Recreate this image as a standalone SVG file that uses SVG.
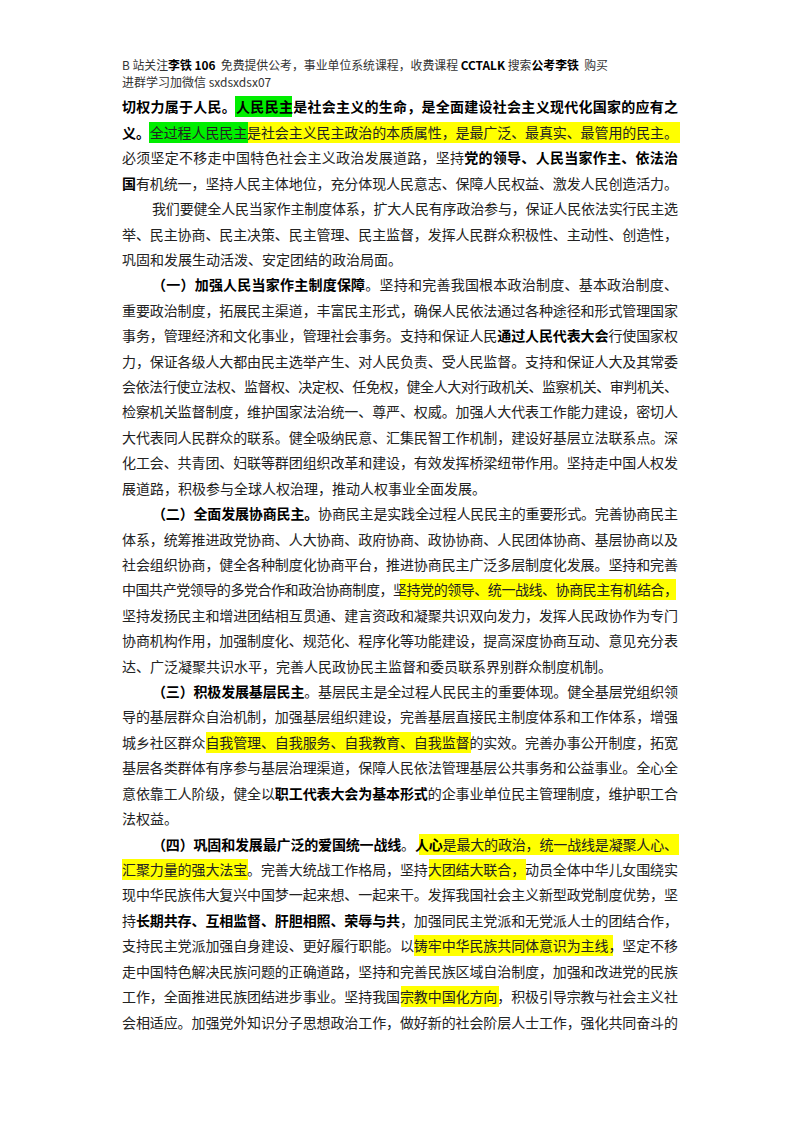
<svg xmlns="http://www.w3.org/2000/svg" width="800" height="1132" viewBox="0 0 800 1132">
<style>
text{font-family:"Noto Sans CJK SC","Noto Sans",sans-serif;fill:#222;font-size:14px}
.h{font-size:12px;fill:#333}
.b{font-weight:bold;fill:#000}
.g{fill:#00ee00}.y{fill:#ffff00}
</style>
<rect width="800" height="1132" fill="#fff"/>
<g id="header">
<text class="h" x="122" y="70" textLength="486" lengthAdjust="spacingAndGlyphs">B&#160;站关注<tspan class="b">李铁&#160;106</tspan>&#160;&#160;免费提供公考，事业单位系统课程，收费课程&#160;<tspan class="b">CCTALK</tspan>&#160;搜索<tspan class="b">公考李铁</tspan>&#160;&#160;购买</text>
<text class="h" x="122" y="87">进群学习加微信 sxdsxdsx07</text>
</g>
<g id="highlights">
<rect class="g" x="235" y="96" width="57" height="21"/>
<rect class="g" x="149" y="122" width="99" height="21"/>
<rect class="y" x="248" y="122" width="432" height="21"/>
<rect class="y" x="400" y="579" width="276" height="21"/>
<rect class="y" x="206" y="732" width="265" height="21"/>
<rect class="y" x="419" y="834" width="260" height="21"/>
<rect class="y" x="122" y="859" width="126" height="21"/>
<rect class="y" x="429" y="859" width="97" height="21"/>
<rect class="y" x="414" y="935" width="199" height="21"/>
<rect class="y" x="401" y="986" width="98" height="21"/>
</g>
<g id="body">
<text x="122" y="112" textLength="556" class="b">切权力属于人民。人民民主是社会主义的生命，是全面建设社会主义现代化国家的应有之</text>
<text x="122" y="138" textLength="556"><tspan class="b">义。</tspan>全过程人民民主是社会主义民主政治的本质属性，是最广泛、最真实、最管用的民主。</text>
<text x="122" y="163" textLength="556">必须坚定不移走中国特色社会主义政治发展道路，坚持<tspan class="b">党的领导、人民当家作主、依法治</tspan></text>
<text x="122" y="189" textLength="556"><tspan class="b">国</tspan>有机统一，坚持人民主体地位，充分体现人民意志、保障人民权益、激发人民创造活力。</text>
<text x="152" y="214" textLength="526">我们要健全人民当家作主制度体系，扩大人民有序政治参与，保证人民依法实行民主选</text>
<text x="122" y="240" textLength="556">举、民主协商、民主决策、民主管理、民主监督，发挥人民群众积极性、主动性、创造性，</text>
<text x="122" y="265">巩固和发展生动活泼、安定团结的政治局面。</text>
<text x="152" y="290" textLength="526"><tspan class="b">（一）加强人民当家作主制度保障</tspan>。坚持和完善我国根本政治制度、基本政治制度、</text>
<text x="122" y="316" textLength="556">重要政治制度，拓展民主渠道，丰富民主形式，确保人民依法通过各种途径和形式管理国家</text>
<text x="122" y="341" textLength="556">事务，管理经济和文化事业，管理社会事务。支持和保证人民<tspan class="b">通过人民代表大会</tspan>行使国家权</text>
<text x="122" y="367" textLength="556">力，保证各级人大都由民主选举产生、对人民负责、受人民监督。支持和保证人大及其常委</text>
<text x="122" y="392" textLength="556">会依法行使立法权、监督权、决定权、任免权，健全人大对行政机关、监察机关、审判机关、</text>
<text x="122" y="417" textLength="556">检察机关监督制度，维护国家法治统一、尊严、权威。加强人大代表工作能力建设，密切人</text>
<text x="122" y="443" textLength="556">大代表同人民群众的联系。健全吸纳民意、汇集民智工作机制，建设好基层立法联系点。深</text>
<text x="122" y="468" textLength="556">化工会、共青团、妇联等群团组织改革和建设，有效发挥桥梁纽带作用。坚持走中国人权发</text>
<text x="122" y="494">展道路，积极参与全球人权治理，推动人权事业全面发展。</text>
<text x="152" y="519" textLength="526"><tspan class="b">（二）全面发展协商民主。</tspan>协商民主是实践全过程人民民主的重要形式。完善协商民主</text>
<text x="122" y="545" textLength="556">体系，统筹推进政党协商、人大协商、政府协商、政协协商、人民团体协商、基层协商以及</text>
<text x="122" y="570" textLength="556">社会组织协商，健全各种制度化协商平台，推进协商民主广泛多层制度化发展。坚持和完善</text>
<text x="122" y="595" textLength="556">中国共产党领导的多党合作和政治协商制度，坚持党的领导、统一战线、协商民主有机结合，</text>
<text x="122" y="621" textLength="556">坚持发扬民主和增进团结相互贯通、建言资政和凝聚共识双向发力，发挥人民政协作为专门</text>
<text x="122" y="646" textLength="556">协商机构作用，加强制度化、规范化、程序化等功能建设，提高深度协商互动、意见充分表</text>
<text x="122" y="672">达、广泛凝聚共识水平，完善人民政协民主监督和委员联系界别群众制度机制。</text>
<text x="152" y="697" textLength="526"><tspan class="b">（三）积极发展基层民主</tspan>。基层民主是全过程人民民主的重要体现。健全基层党组织领</text>
<text x="122" y="722" textLength="556">导的基层群众自治机制，加强基层组织建设，完善基层直接民主制度体系和工作体系，增强</text>
<text x="122" y="748" textLength="556">城乡社区群众自我管理、自我服务、自我教育、自我监督的实效。完善办事公开制度，拓宽</text>
<text x="122" y="773" textLength="556">基层各类群体有序参与基层治理渠道，保障人民依法管理基层公共事务和公益事业。全心全</text>
<text x="122" y="799" textLength="556">意依靠工人阶级，健全以<tspan class="b">职工代表大会为基本形式</tspan>的企事业单位民主管理制度，维护职工合</text>
<text x="122" y="824">法权益。</text>
<text x="152" y="850" textLength="526"><tspan class="b">（四）巩固和发展最广泛的爱国统一战线</tspan>。<tspan class="b">人心</tspan>是最大的政治，统一战线是凝聚人心、</text>
<text x="122" y="875" textLength="556">汇聚力量的强大法宝。完善大统战工作格局，坚持大团结大联合，动员全体中华儿女围绕实</text>
<text x="122" y="900" textLength="556">现中华民族伟大复兴中国梦一起来想、一起来干。发挥我国社会主义新型政党制度优势，坚</text>
<text x="122" y="926" textLength="556">持<tspan class="b">长期共存、互相监督、肝胆相照、荣辱与共</tspan>，加强同民主党派和无党派人士的团结合作，</text>
<text x="122" y="951" textLength="556">支持民主党派加强自身建设、更好履行职能。以铸牢中华民族共同体意识为主线，坚定不移</text>
<text x="122" y="977" textLength="556">走中国特色解决民族问题的正确道路，坚持和完善民族区域自治制度，加强和改进党的民族</text>
<text x="122" y="1002" textLength="556">工作，全面推进民族团结进步事业。坚持我国宗教中国化方向，积极引导宗教与社会主义社</text>
<text x="122" y="1028" textLength="556">会相适应。加强党外知识分子思想政治工作，做好新的社会阶层人士工作，强化共同奋斗的</text>
</g>
</svg>
